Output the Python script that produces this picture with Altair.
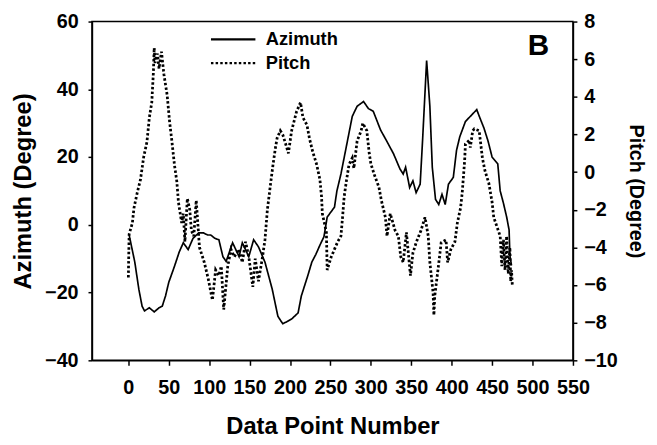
import altair as alt
import pandas as pd

# ---------------- data ----------------
az_x = [1, 8, 13, 17, 20, 26, 32, 38, 42, 46, 50, 57, 63, 68, 74, 80, 87, 93, 98, 102,
        107, 112, 117, 121, 129, 137, 141, 149, 155, 161, 169, 178, 185, 191, 197, 202,
        210, 214, 222, 227, 232, 237, 242, 246, 255, 258, 263, 271, 277, 283, 291, 297,
        303, 312, 319, 328, 336, 340, 343, 348, 352, 356, 361, 364, 369, 373, 376, 380,
        384, 388, 392, 396, 402, 406, 410, 417, 425, 431, 435, 440, 445, 450, 457, 460,
        464, 468, 471, 472, 474]
az_y = [-3, -11, -19, -24, -25.4, -24.5, -25.7, -24.5, -24, -21, -17, -12.3, -8, -5.3,
        -7.3, -4, -2.4, -2.4, -3, -3, -4, -4.4, -9.4, -10.8, -5.3, -9.4, -5.3, -9.4,
        -4.4, -6.5, -11, -19, -27, -29.2, -28.5, -27.8, -26, -21, -15, -11, -8.7, -6,
        -3.5, 2.3, 5.2, 10, 15, 24.7, 32, 35, 36.4, 34.3, 33.5, 28, 25, 21, 16.5, 15,
        17, 11, 13, 9.5, 12, 25, 48.5, 35, 17, 7.5, 6, 9, 6, 12, 14, 22, 26, 30.5,
        32.5, 34, 31.5, 28.5, 24.7, 20, 18, 10, 6.4, 2.3, -1.5, -9, -12]

pitch_x = [0, 1, 5, 7, 11, 15, 19, 23, 26, 29, 31, 32, 33, 36, 38, 41, 44, 48, 51, 54,
           57, 60, 62, 66, 68, 70, 73, 76, 78, 81, 84, 88, 94, 99, 104, 108, 112, 115,
           118, 123, 127, 131, 137, 141, 145, 149, 154, 157, 161, 166, 169, 172, 176,
           179, 182, 184, 188, 191, 196, 198, 202, 208, 213, 216, 221, 224, 228, 233,
           237, 239, 240, 245, 246, 251, 255, 259, 263, 265, 267, 270, 273, 277, 279,
           283, 288, 290, 295, 298, 300, 304, 310, 313, 318, 320, 324, 330, 334, 337,
           340, 344, 349, 352, 356, 362, 367, 371, 373, 377, 378, 379, 383, 387, 393,
           395, 399, 404, 407, 411, 413, 416, 417, 422, 423, 426, 428, 434, 438, 441,
           446, 450, 452, 456, 460, 462, 464, 466, 468, 470, 472, 473, 474, 475]
pitch_y = [-5.6, -3.3, -2.7, -1.9, -1.1, -0.4, 0.8, 1.6, 2.9, 3.7, 5.3, 6.6, 5.8, 6.3,
           5.5, 6.4, 5.2, 4.1, 2.7, 1.6, 0.4, -0.5, -1.6, -2.7, -2.2, -3.7, -1.4, -2.0,
           -3.1, -3.4, -1.5, -4, -4.8, -5.7, -6.8, -5.2, -5.5, -5, -7.3, -5, -4.1, -4.5,
           -4.1, -4.8, -3.7, -4.5, -6.1, -4.6, -5.8, -4.5, -3.6, -2, -0.6, 0.4, 1.3, 1.8,
           2.2, 2.0, 1.3, 1.0, 2.2, 3.2, 3.7, 2.9, 2.5, 1.8, 1.1, 0.4, -0.4, -1.3, -2.2,
           -3.2, -5.2, -4.5, -4.1, -3.7, -3.4, -2.4, -1.3, -0.4, 0.4, 0.75, 0.2, 1.65,
           2.2, 2.6, 2.2, 1.0, 0.45, -0.1, -0.8, -1.5, -2.4, -3.4, -2.2, -3.1, -3.4,
           -4.5, -4.8, -3.2, -5.5, -4.3, -3.75, -3.1, -2.4, -3.4, -4.8, -6.4, -7.6,
           -6.6, -5.2, -3.75, -3.6, -4.8, -4.1, -3.7, -2.7, -1.9, -1.1, 0.6, 1.5, 1.7,
           1.3, 2.2, 2.3, 2.2, 0.75, 0.1, -0.6, -1.6, -2.4, -2.9, -3.4, -5.0, -3.6, -5.2,
           -3.4, -5.4, -4.0, -5.8, -5.2, -6.0]

series_names = ["Azimuth", "Pitch"]
x_ticks = list(range(0, 551, 50))
az_ticks = [-40, -20, 0, 20, 40, 60]
pitch_ticks = list(range(-10, 9, 2))
panel_label = ["B"]

FONT = "Liberation Sans"

az_df = pd.DataFrame({"n": az_x, "v": az_y, "series": series_names[0]})
pi_df = pd.DataFrame({"n": pitch_x, "v": pitch_y, "series": series_names[1]})
lab_df = pd.DataFrame({"label": panel_label})

x_enc = alt.X(
    "n:Q",
    scale=alt.Scale(domain=[-45, 550], nice=False, zero=False),
    axis=alt.Axis(values=x_ticks, title="Data Point Number", tickSize=5,
                  labelPadding=13, labelFontSize=20, titleFontSize=24,
                  titlePadding=17, labelFlush=False, labelOverlap=False),
)

dash = alt.StrokeDash(
    "series:N",
    scale=alt.Scale(domain=series_names, range=[[1, 0], [2.5, 2.2]]),
    legend=alt.Legend(
        title=None, orient="none", legendX=119, legendY=7,
        symbolType="stroke", symbolSize=2025, symbolStrokeWidth=2.2,
        symbolStrokeColor="black", clipHeight=22, rowPadding=2,
        labelOffset=9, labelFontSize=18.5, labelFont=FONT,
        labelFontWeight="bold", labelColor="black", padding=0,
    ),
)

az_line = alt.Chart(az_df).mark_line(color="black", strokeWidth=1.7).encode(
    x=x_enc,
    y=alt.Y("v:Q", scale=alt.Scale(domain=[-40, 60], nice=False, zero=False),
            axis=alt.Axis(values=az_ticks, title="Azimuth (Degree)", orient="left",
                          tickSize=4, labelPadding=10, labelFontSize=20,
                          titleFontSize=24, titlePadding=9)),
    strokeDash=dash,
)

pi_line = alt.Chart(pi_df).mark_line(color="black", strokeWidth=2.8).encode(
    x=x_enc,
    y=alt.Y("v:Q", scale=alt.Scale(domain=[-10, 8], nice=False, zero=False),
            axis=alt.Axis(values=pitch_ticks, title="Pitch (Degree)", orient="right",
                          tickSize=4, labelPadding=7, labelFontSize=20,
                          titleFontSize=20, titlePadding=8)),
    strokeDash=dash,
)

b_text = alt.Chart(lab_df).mark_text(
    font=FONT, fontWeight="bold", fontSize=30, color="black",
    align="center", baseline="alphabetic",
).encode(text="label:N", x=alt.value(452), y=alt.value(34))

chart = (
    alt.layer(az_line, pi_line, b_text)
    .resolve_scale(y="independent")
    .properties(
        width=487, height=343,
        autosize=alt.AutoSizeParams(type="none"),
        padding={"left": 85, "top": 11, "right": 77, "bottom": 83},
        background="white",
    )
    .configure_view(stroke="black", strokeWidth=1.5)
    .configure_axis(
        labelFont=FONT, titleFont=FONT, labelFontWeight="bold",
        titleFontWeight="bold", labelColor="black", titleColor="black",
        domainColor="black", domainWidth=1.5, tickColor="black", tickWidth=1.5,
        grid=False,
    )
)

chart.save("out.html", embed_options={"renderer": "svg", "actions": False})
